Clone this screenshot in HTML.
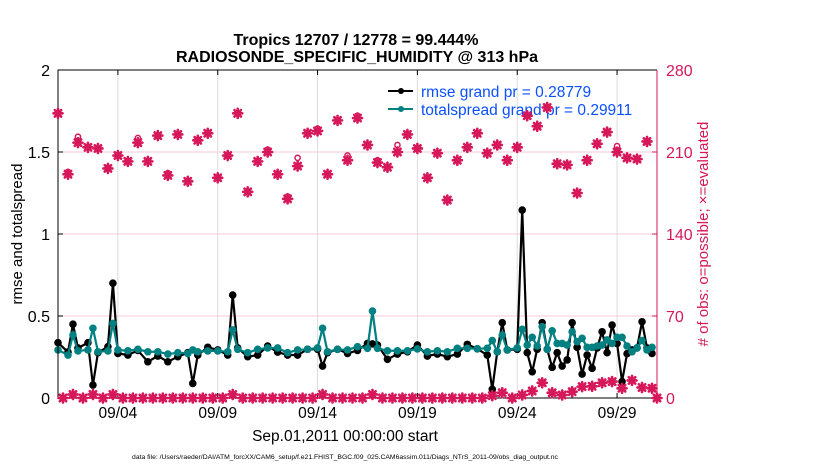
<!DOCTYPE html>
<html><head><meta charset="utf-8"><style>
html,body{margin:0;padding:0;background:#fff;}
svg{display:block;font-family:"Liberation Sans",Arial,sans-serif;}
</style></head><body>
<svg id="chart" width="830" height="470" viewBox="0 0 830 470">
<text x="356" y="45" font-size="16" font-weight="bold" text-anchor="middle">Tropics 12707 / 12778 = 99.444%</text>
<text x="357" y="62" font-size="16" font-weight="bold" text-anchor="middle">RADIOSONDE_SPECIFIC_HUMIDITY @ 313 hPa</text>
<g id="grid"></g>
<g id="marks"></g>
<g id="axes"></g>
<g>
 <line x1="388" y1="91" x2="413" y2="91" stroke="#000" stroke-width="2"/>
 <circle cx="401" cy="91" r="3" fill="#000"/>
 <text x="421" y="97" font-size="15.5" fill="#0a50ff">rmse grand pr = 0.28779</text>
 <line x1="388" y1="109" x2="413" y2="109" stroke="#008080" stroke-width="2"/>
 <circle cx="401" cy="109" r="3" fill="#008080"/>
 <text x="421" y="115" font-size="15.5" fill="#0a50ff">totalspread grand pr = 0.29911</text>
</g>
<g id="pinkmarks"></g>
<text transform="translate(22,234) rotate(-90)" font-size="15" text-anchor="middle">rmse and totalspread</text>
<text transform="translate(708,234) rotate(-90)" font-size="15" fill="#d6175a" text-anchor="middle"># of obs: o=possible; ×=evaluated</text>
<text x="345" y="441" font-size="15.5" text-anchor="middle">Sep.01,2011 00:00:00 start</text>
<text x="345" y="459" font-size="6.8" text-anchor="middle">data file: /Users/raeder/DAI/ATM_forcXX/CAM6_setup/f.e21.FHIST_BGC.f09_025.CAM6assim.011/Diags_NTrS_2011-09/obs_diag_output.nc</text>
</svg>
<script>
const xTickDays = [3, 8, 13, 18, 23, 28];
const xTickLabels = ["09/04", "09/09", "09/14", "09/19", "09/24", "09/29"];
const leftTicks = [0, 0.5, 1, 1.5, 2];
const leftTickLabels = ["0", "0.5", "1", "1.5", "2"];
const rightTicks = [0, 70, 140, 210, 280];
const statDays = [0,0.5,0.75,1,1.5,1.75,2,2.5,2.75,3,3.5,4,4.5,5,5.5,6,6.5,6.75,7,7.5,8,8.5,8.75,9,9.5,10,10.5,11,11.5,12,12.5,13,13.25,13.5,14,14.5,15,15.5,15.75,16,16.5,17,17.5,18,18.5,19,19.5,20,20.5,21,21.5,21.75,22,22.25,22.5,23,23.25,23.5,23.75,24,24.25,24.5,24.75,25,25.25,25.5,25.75,26,26.25,26.5,26.75,27,27.25,27.5,27.75,28,28.25,28.5,28.75,29,29.25,29.5,29.75];
const rmse = [.337,.28,.45,.305,.337,.079,.276,.313,.70,.272,.262,.29,.221,.256,.221,.252,.276,.089,.262,.309,.293,.262,.628,.305,.252,.262,.317,.28,.262,.262,.297,.297,.195,.276,.297,.272,.29,.333,.33,.323,.236,.268,.282,.323,.256,.268,.252,.268,.327,.30,.262,.053,.282,.459,.293,.297,1.146,.276,.16,.297,.459,.297,.187,.276,.195,.232,.459,.309,.146,.262,.181,.305,.404,.276,.445,.333,.10,.27,.293,.305,.465,.305,.272];
const spread = [.293,.262,.384,.287,.293,.425,.282,.287,.455,.293,.288,.297,.282,.282,.268,.276,.272,.293,.282,.287,.287,.282,.415,.297,.276,.297,.305,.305,.276,.293,.297,.305,.425,.282,.297,.293,.313,.303,.53,.303,.288,.288,.288,.299,.282,.288,.282,.303,.303,.30,.303,.35,.282,.384,.293,.305,.419,.323,.37,.317,.435,.297,.41,.333,.333,.323,.404,.343,.364,.309,.309,.317,.323,.354,.333,.37,.37,.317,.282,.305,.35,.293,.309];
const evalDays = [0,0.5,1,1.5,2,2.5,3,3.5,4,4.5,5,5.5,6,6.5,7,7.5,8,8.5,9,9.5,10,10.5,11,11.5,12,12.5,13,13.5,14,14.5,15,15.5,16,16.5,17,17.5,18,18.5,19,19.5,20,20.5,21,21.5,22,22.5,23,23.5,24,24.5,25,25.5,26,26.5,27,27.5,28,28.5,29,29.5];
const evaluated = [243,191,218,214,213,196,207,202,218,202,224,190,225,185,220,226,188,207,243,176,202,210,191,170,198,226,228,191,237,203,239,216,201,197,210,225,213,188,209,169,203,214,226,209,216,203,214,241,232,248,200,199,175,203,217,227,210,205,204,219];
const possible = [243,193,223,214,213,196,207,202,222,202,224,192,225,185,220,226,188,207,243,176,202,212,191,172,205,226,230,191,237,207,241,216,203,197,216,225,213,188,209,169,203,214,226,209,216,203,214,241,232,248,200,199,175,203,217,227,215,205,204,219];
const lowDays = [0.25,0.75,1.25,1.75,2.25,2.75,3.25,3.75,4.25,4.75,5.25,5.75,6.25,6.75,7.25,7.75,8.25,8.75,9.25,9.75,10.25,10.75,11.25,11.75,12.25,12.75,13.25,13.75,14.25,14.75,15.25,15.75,16.25,16.75,17.25,17.75,18.25,18.75,19.25,19.75,20.25,20.75,21.25,21.75,22.25,22.75,23.25,23.75,24.25,24.75,25.25,25.75,26.25,26.75,27.25,27.75,28.25,28.75,29.25,29.75,30];
const lowCounts = [0,3,0,3,0,3,0,0,0,0,0,0,0,0,0,0,0,3,0,0,0,0,0,0,0,0,3,0,0,0,0,3,0,0,0,0,0,0,0,0,0,0,0,2,4.5,0,2.6,6,13,4.5,2.6,5.4,9.7,10,13,14,8.3,15,9,8.3,0];

const NS = "http://www.w3.org/2000/svg";
const X0 = 58, X1 = 657, Y0 = 398, Y1 = 70;
function xs(d){ return X0 + d * (X1 - X0) / 30; }
function yl(v){ return Y0 - v * (Y0 - Y1) / 2; }
function yr(v){ return Y0 - v * (Y0 - Y1) / 280; }
function mk(tag, attrs, parent){ const e = document.createElementNS(NS, tag); for (const k in attrs) e.setAttribute(k, attrs[k]); parent.appendChild(e); return e; }
const grid = document.getElementById("grid"), axes = document.getElementById("axes"), marks = document.getElementById("marks"), pink = document.getElementById("pinkmarks");
const PINK = "#d6175a", TEAL = "#008080";

xTickDays.forEach((d, i) => {
  const g = mk("line", {x1: xs(d), x2: xs(d), y1: Y1, y2: Y0, stroke: "#dcdcdc", "stroke-width": 1}, grid);
  
  
  const t = mk("text", {x: xs(d), y: 418, "font-size": 15.5, "text-anchor": "middle"}, axes);
  t.textContent = xTickLabels[i];
  
  
  mk("line", {x1: xs(d), x2: xs(d), y1: Y0, y2: Y0 - 5, stroke: "#000"}, axes);
  mk("line", {x1: xs(d), x2: xs(d), y1: Y1, y2: Y1 + 5, stroke: "#000"}, axes);
});
leftTicks.forEach((v, i) => {
  if (v > 0 && v < 2) {
    const g = mk("line", {x1: X0, x2: X1, y1: yl(v), y2: yl(v), stroke: "#f7c8d8", "stroke-width": 1}, grid);
    
    
  }
  const t = mk("text", {x: 50, y: yl(v) + 6, "font-size": 16, "text-anchor": "end"}, axes);
  t.textContent = leftTickLabels[i];
  
  
  mk("line", {x1: X0, x2: X0 + 5, y1: yl(v), y2: yl(v), stroke: "#000"}, axes);
});
rightTicks.forEach(v => {
  const t = mk("text", {x: 666, y: yr(v) + 6, "font-size": 16, fill: PINK}, axes);
  t.textContent = String(v);
  
  
  mk("line", {x1: X1, x2: X1 - 5, y1: yr(v), y2: yr(v), stroke: PINK}, axes);
});
mk("path", {d: `M${X1},${Y1} H${X0} V${Y0} H${X1}`, fill: "none", stroke: "#000", "stroke-width": 1}, axes);
mk("line", {x1: X1, x2: X1, y1: Y1, y2: Y0, stroke: PINK, "stroke-width": 1}, axes);

function series(vals, color, name){
  const pts = statDays.map((d, i) => xs(d) + "," + yl(vals[i])).join(" ");
  const pl = mk("polyline", {points: pts, fill: "none", stroke: color, "stroke-width": 2.2, "stroke-linejoin": "round"}, marks);
  
  
  statDays.forEach((d, i) => {
    const c = mk("circle", {cx: xs(d), cy: yl(vals[i]), r: 3.8, fill: color}, marks);
    
    
  });
}
series(rmse, "#000", "rmse");
series(spread, TEAL, "totalspread");

function star(x, y, name){
  const g = mk("g", {stroke: PINK, "stroke-width": 2.6, "stroke-linecap": "round"}, pink);
  
  
  mk("line", {x1: x - 4.5, x2: x + 4.5, y1: y, y2: y}, g);
  mk("line", {x1: x, x2: x, y1: y - 4.5, y2: y + 4.5}, g);
  mk("line", {x1: x - 3.2, x2: x + 3.2, y1: y - 3.2, y2: y + 3.2}, g);
  mk("line", {x1: x - 3.2, x2: x + 3.2, y1: y + 3.2, y2: y - 3.2}, g);
  mk("circle", {cx: x, cy: y, r: 3, fill: PINK, stroke: "none"}, g);
}
evalDays.forEach((d, i) => {
  const c = mk("circle", {cx: xs(d), cy: yr(possible[i]), r: 2.6, fill: "#fff", stroke: PINK, "stroke-width": 1.5}, pink);
  
  
  star(xs(d), yr(evaluated[i]), 'evaluated-obs-marker');
});
lowDays.forEach((d, i) => star(xs(d), yr(lowCounts[i]), 'low-count-marker'));
</script>
</body></html>
